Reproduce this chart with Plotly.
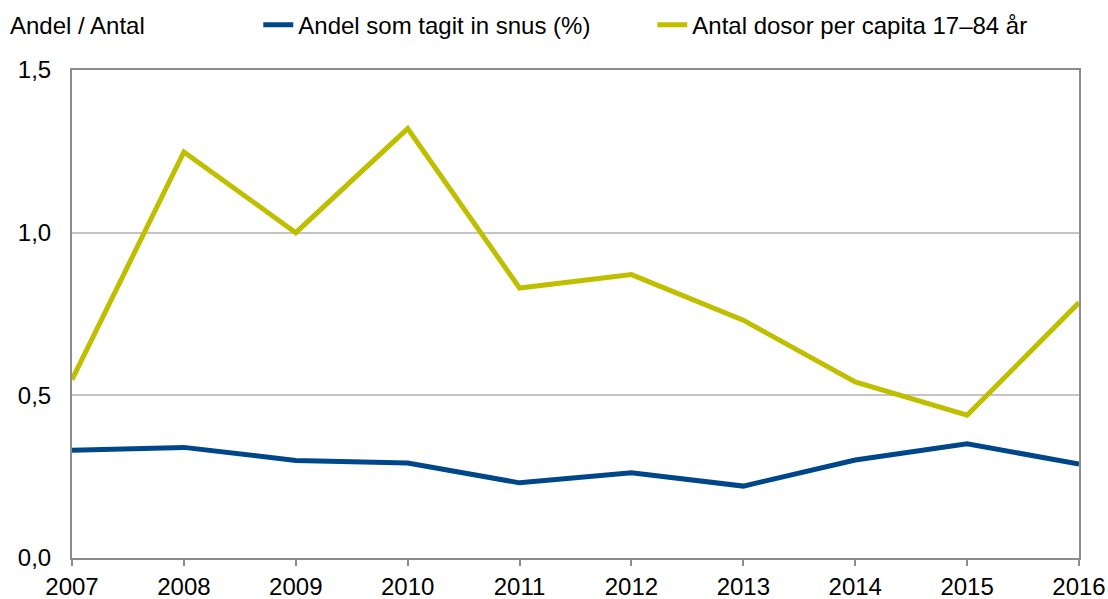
import plotly.graph_objects as go

years = [2007, 2008, 2009, 2010, 2011, 2012, 2013, 2014, 2015, 2016]
andel_snus = [0.331, 0.340, 0.300, 0.292, 0.231, 0.262, 0.221, 0.301, 0.351, 0.289]
antal_dosor = [0.548, 1.248, 1.000, 1.320, 0.830, 0.871, 0.731, 0.541, 0.439, 0.785]
series_names = ["Andel som tagit in snus (%)", "Antal dosor per capita 17\u201384 år"]
y_ticks = [0.0, 0.5, 1.0, 1.5]
y_title = "Andel / Antal"

FONT = "Liberation Sans, Arial, sans-serif"
FS = 24

fig = go.Figure()
fig.add_trace(go.Scatter(x=years, y=andel_snus, mode="lines", name=series_names[0],
                         line=dict(color="#00478A", width=5)))
fig.add_trace(go.Scatter(x=years, y=antal_dosor, mode="lines", name=series_names[1],
                         line=dict(color="#BFBF00", width=5)))

fig.update_layout(
    width=1108, height=599,
    margin=dict(l=72, r=29, t=70, b=41, autoexpand=False),
    paper_bgcolor="white", plot_bgcolor="white",
    separators=",.",
    font=dict(family=FONT, size=FS, color="black"),
    showlegend=True,
    legend=dict(orientation="h", x=0.185, xanchor="left", y=1.092, yanchor="middle",
                font=dict(family=FONT, size=FS, color="black"),
                entrywidth=349, entrywidthmode="pixels",
                bgcolor="rgba(0,0,0,0)", tracegroupgap=0),
    xaxis=dict(range=[2007, 2016], tickvals=years, ticktext=[str(y) for y in years],
               showgrid=False, zeroline=False, showline=True, mirror=True,
               linecolor="#8C8C8C", linewidth=2, ticks="outside", ticklen=6,
               tickcolor="#8C8C8C", tickwidth=2,
               tickfont=dict(family=FONT, size=FS, color="black")),
    yaxis=dict(range=[0, 1.5], tickvals=y_ticks, tickformat=".1f",
               showgrid=True, gridcolor="#C4C4C4", gridwidth=1.5, zeroline=False,
               showline=True, mirror=True, linecolor="#8C8C8C", linewidth=2,
               ticks="", ticklabelstandoff=14,
               tickfont=dict(family=FONT, size=FS, color="black")),
    annotations=[dict(text=y_title, xref="paper", yref="paper", x=-0.0636, y=1.092,
                      xanchor="left", yanchor="middle", showarrow=False,
                      font=dict(family=FONT, size=FS, color="black"))],
)

fig.write_html(
    "out.html",
    config={"displayModeBar": False},
    post_script="document.body.style.margin='0';document.body.style.overflow='hidden';",
)
